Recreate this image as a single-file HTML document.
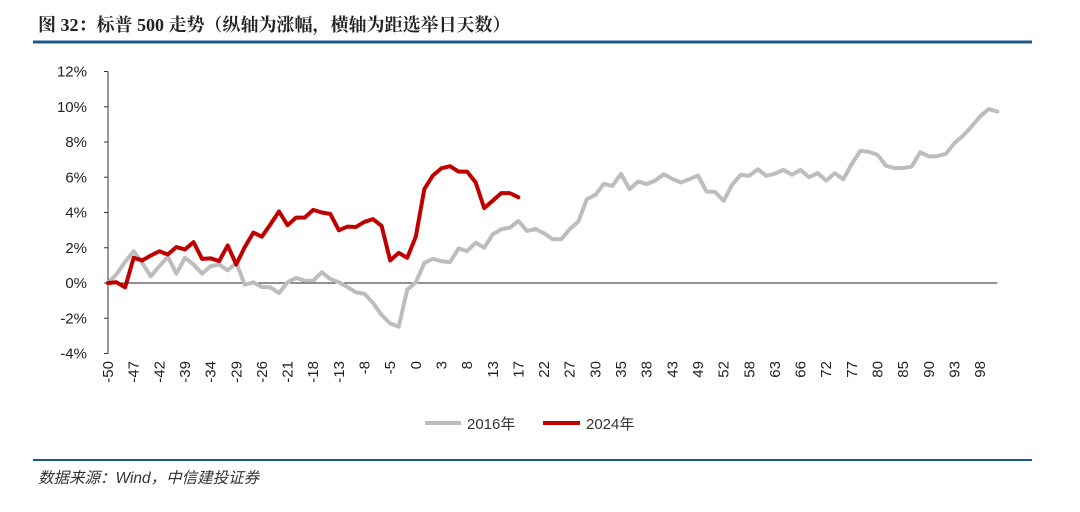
<!DOCTYPE html>
<html><head><meta charset="utf-8"><style>
body{margin:0;background:#fff;width:1080px;height:507px;overflow:hidden;font-family:"Liberation Sans","Noto Sans CJK SC",sans-serif;}
</style></head><body>
<svg id="c" width="1080" height="507" xmlns="http://www.w3.org/2000/svg">
<text x="38" y="31" font-size="18" font-weight="bold" fill="#222" font-family="Liberation Serif, Noto Serif CJK SC, Noto Sans CJK SC, serif">图 32：标普 500 走势（纵轴为涨幅，横轴为距选举日天数）</text>
<rect x="33" y="40.5" width="999" height="3" fill="#1b5a86"/>
<rect x="33" y="459" width="999" height="2" fill="#1b5a86"/>
<text x="38" y="483" font-size="15.5" font-style="italic" fill="#333">数据来源：Wind，中信建投证券</text>
<g id="plot"></g>
<g>
<line x1="425" y1="423" x2="461" y2="423" stroke="#bdbdbd" stroke-width="4"/>
<text x="467" y="429" font-size="15" fill="#333">2016年</text>
<line x1="543" y1="423" x2="580" y2="423" stroke="#c00000" stroke-width="4"/>
<text x="586" y="429" font-size="15" fill="#333">2024年</text>
</g>
</svg>
<script>
const xLabels=[-50,-47,-42,-39,-34,-29,-26,-21,-18,-13,-8,-5,0,3,8,13,17,22,27,30,35,38,43,49,52,58,63,66,72,77,80,85,90,93,98];
const yTicks=[-4,-2,0,2,4,6,8,10,12];
const s2016=[0,0.5,1.2,1.8,1.14,0.38,0.95,1.49,0.53,1.43,1.05,0.53,0.95,1.05,0.72,1.14,-0.1,0.04,-0.23,-0.25,-0.57,0.04,0.29,0.13,0.13,0.61,0.23,0.04,-0.23,-0.53,-0.61,-1.14,-1.81,-2.29,-2.48,-0.38,0.04,1.14,1.37,1.24,1.18,1.96,1.81,2.29,2.0,2.76,3.05,3.14,3.52,2.95,3.07,2.82,2.48,2.48,3.05,3.48,4.75,5.0,5.63,5.51,6.19,5.32,5.76,5.61,5.81,6.17,5.91,5.7,5.89,6.1,5.19,5.17,4.66,5.57,6.14,6.08,6.46,6.08,6.2,6.42,6.14,6.42,6.0,6.23,5.81,6.23,5.89,6.76,7.5,7.44,7.27,6.65,6.52,6.52,6.61,7.42,7.18,7.2,7.33,7.94,8.35,8.88,9.45,9.87,9.73];
const s2024=[0,0.04,-0.25,1.43,1.28,1.56,1.8,1.62,2.04,1.9,2.32,1.37,1.4,1.24,2.13,1.05,2.04,2.86,2.63,3.33,4.06,3.28,3.71,3.71,4.15,4.0,3.92,2.99,3.2,3.18,3.47,3.62,3.24,1.28,1.71,1.43,2.63,5.33,6.1,6.51,6.63,6.32,6.32,5.71,4.25,4.67,5.1,5.1,4.86];
const NS='http://www.w3.org/2000/svg';
const g=document.getElementById('plot');
const x0=108,step=8.55,yZero=283,pxPer=17.625;
const X=i=>x0+step*i;
const Y=v=>yZero-v*pxPer;
function mk(t,a){const e=document.createElementNS(NS,t);for(const k in a)e.setAttribute(k,a[k]);g.appendChild(e);return e;}
const ax=mk('line',{x1:x0,y1:Y(12),x2:x0,y2:Y(-4),stroke:'#333','stroke-width':1});


yTicks.forEach(v=>{
 const t=mk('line',{x1:x0-4,y1:Y(v),x2:x0,y2:Y(v),stroke:'#333','stroke-width':1});
 
 
 const l=mk('text',{x:87,y:Y(v)+5,'font-size':15,'text-anchor':'end',fill:'#222'});
 l.textContent=v+'%';
 
 
});
const zl=mk('line',{x1:x0,y1:Y(0),x2:X(s2016.length-1),y2:Y(0),stroke:'#222','stroke-width':1});


xLabels.forEach((v,k)=>{
 const x=X(k*3)+5;
 const l=mk('text',{x:x,y:361,'font-size':15,'text-anchor':'end',fill:'#222',transform:`rotate(-90 ${x} 361)`});
 l.textContent=v;
 
 
});
function line(arr,col,name){
 const p=mk('polyline',{points:arr.map((v,i)=>X(i)+','+Y(v)).join(' '),fill:'none',stroke:col,'stroke-width':4,'stroke-linejoin':'round','stroke-linecap':'round'});
 
 
}
line(s2016,'#bdbdbd','series-2016');
line(s2024,'#c00000','series-2024');
</script>
</body></html>
